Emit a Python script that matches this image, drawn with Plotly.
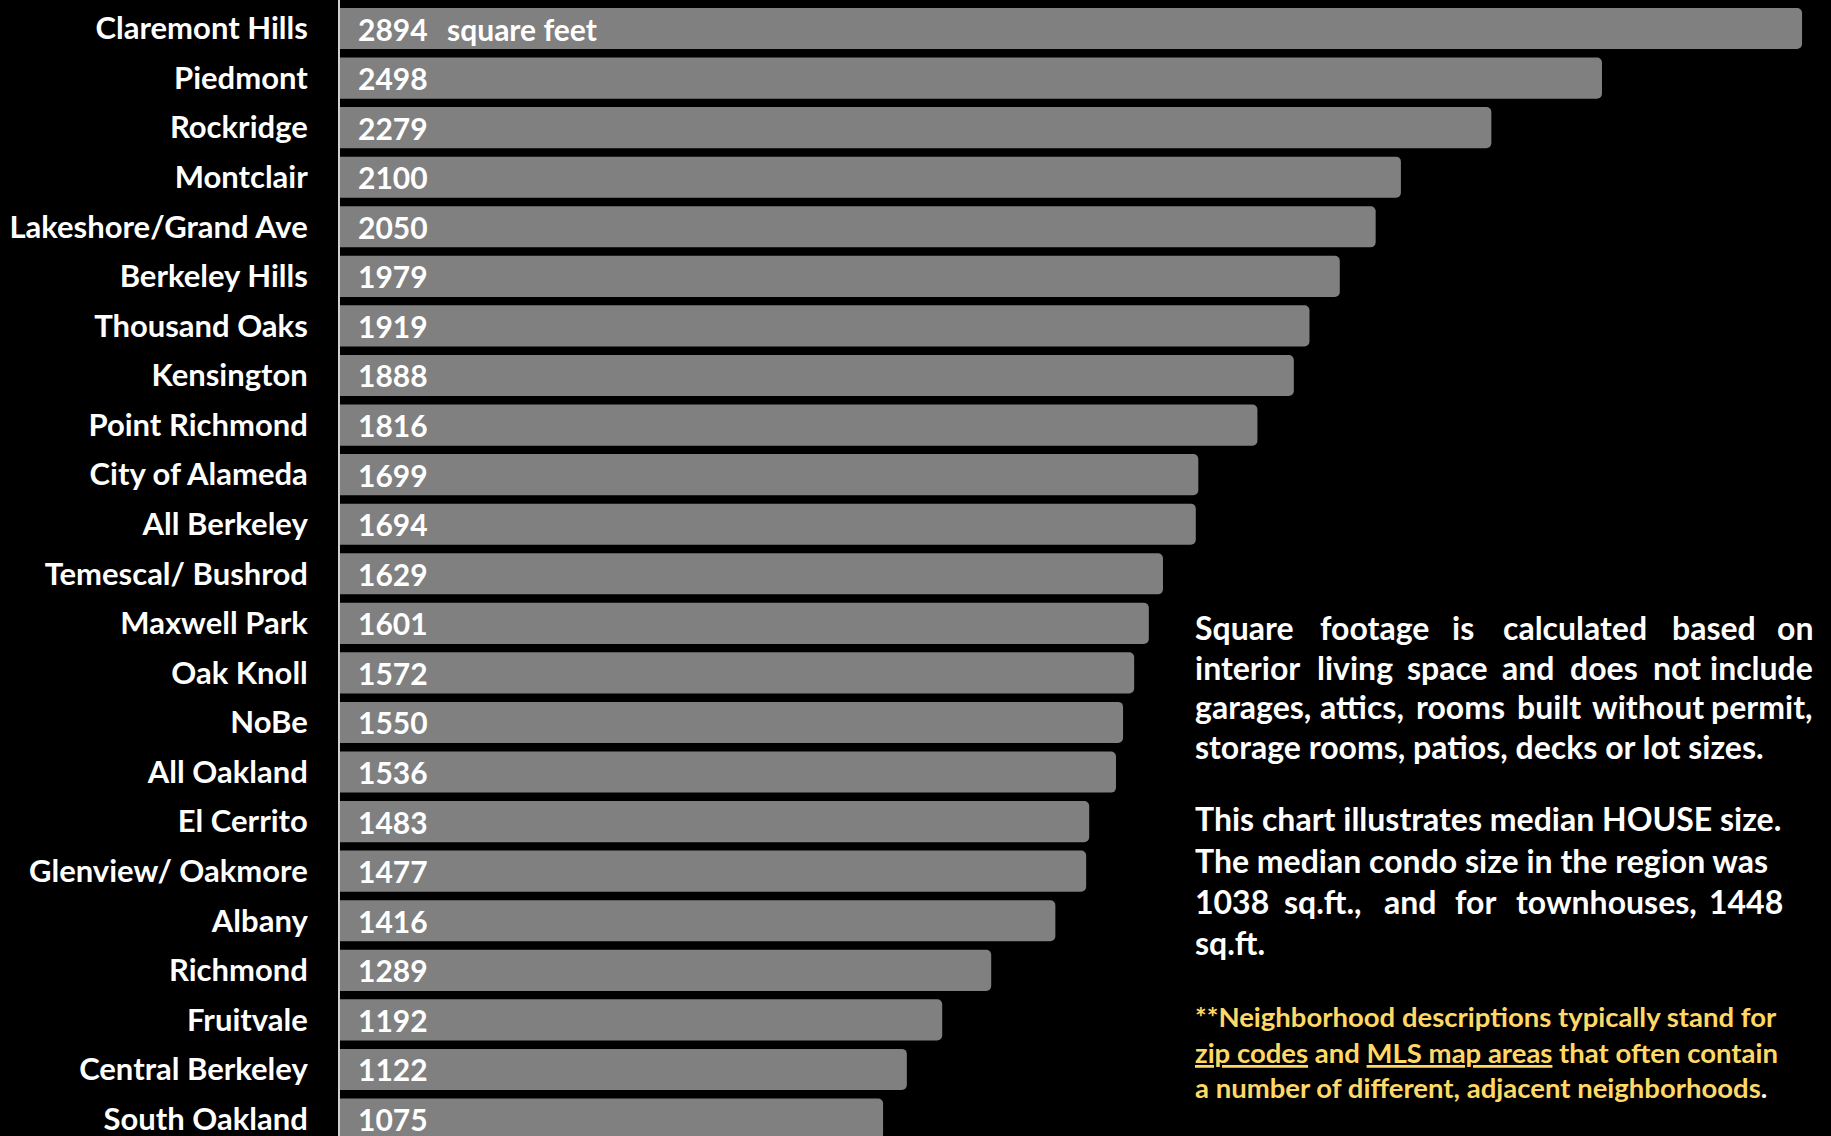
import plotly.graph_objects as go

neighborhoods = ["Claremont Hills", "Piedmont", "Rockridge", "Montclair", "Lakeshore/Grand Ave",
                 "Berkeley Hills", "Thousand Oaks", "Kensington", "Point Richmond", "City of Alameda",
                 "All Berkeley", "Temescal/ Bushrod", "Maxwell Park", "Oak Knoll", "NoBe",
                 "All Oakland", "El Cerrito", "Glenview/ Oakmore", "Albany", "Richmond",
                 "Fruitvale", "Central Berkeley", "South Oakland"]
median_sqft = [2894, 2498, 2279, 2100, 2050, 1979, 1919, 1888, 1816, 1699, 1694, 1629, 1601,
               1572, 1550, 1536, 1483, 1477, 1416, 1289, 1192, 1122, 1075]
unit_label = "square feet"

W, H = 1831, 1136
L = 340
FONT = "Lato"
WHITE = "#ffffff"
GOLD = "#FFD966"

fig = go.Figure()
fig.add_trace(go.Bar(
    x=median_sqft, y=neighborhoods, orientation="h",
    marker=dict(color="#808080", line=dict(width=0), cornerradius=5),
    width=0.83, hoverinfo="skip",
))

annotations = []
for name, v in zip(neighborhoods, median_sqft):
    annotations.append(dict(x=0, y=name, xref="x", yref="y", text=f"<b>{v}</b>",
                            showarrow=False, xanchor="left", yanchor="middle", xshift=16,
                            font=dict(family=FONT, size=30, color=WHITE)))
annotations.append(dict(x=0, y=neighborhoods[0], xref="x", yref="y", text=f"<b>{unit_label}</b>",
                        showarrow=False, xanchor="left", yanchor="middle", xshift=105,
                        font=dict(family=FONT, size=30, color=WHITE)))


def px(xp):
    return (xp - L) / (W - L)


def py(yp):
    return 1 - yp / H


def text_at(txt, x, y, size, color=WHITE, anchor="left"):
    annotations.append(dict(x=px(x), y=py(y), xref="paper", yref="paper", text=f"<b>{txt}</b>",
                            showarrow=False, xanchor=anchor, yanchor="middle",
                            font=dict(family=FONT, size=size, color=color)))


def justified(words, starts, right, y, size, color=WHITE):
    for i, (w, s) in enumerate(zip(words, starts)):
        if i == len(words) - 1:
            text_at(w, right, y, size, color, anchor="right")
        else:
            text_at(w, s, y, size, color)


LEFT = 1193
P = 32
# paragraph 1 (justified)
justified(["Square", "footage", "is", "calculated", "based", "on"],
          [1193, 1318, 1450, 1501, 1670, 1780], 1815, 627, P)
justified(["interior", "living", "space", "and", "does", "not", "include"],
          [1193, 1315, 1405, 1500, 1568, 1651, 1715], 1815, 667, P)
justified(["garages,", "attics,", "rooms", "built", "without", "permit,"],
          [1193, 1318, 1414, 1515, 1590, 1713], 1815, 706.5, P)
text_at("storage rooms, patios, decks or lot sizes.", LEFT, 746, P)

# paragraph 2
text_at("This chart illustrates median HOUSE size.", LEFT, 818.6, P)
text_at("The median condo size in the region was", LEFT, 860.6, P)
justified(["1038", "sq.ft.,", "and", "for", "townhouses,", "1448"],
          [1193, 1282, 1382, 1453, 1514, 1717], 1785, 901.5, P)
text_at("sq.ft.", LEFT, 942.3, P)

# paragraph 3 (gold)
P3 = 27.5
text_at("**Neighborhood descriptions typically stand for", LEFT, 1017, P3, GOLD)
text_at("<u>zip codes</u> and <u>MLS map areas</u> that often contain", LEFT, 1052, P3, GOLD)
text_at("a number of different, adjacent neighborhoods<span style='color:white'>.</span>",
        LEFT, 1087, P3, GOLD)

pitch = 49.57
top_center = 28.5
y_top = -top_center / pitch
y_bot = y_top + H / pitch

fig.update_layout(
    width=W, height=H,
    margin=dict(l=L, r=0, t=0, b=0, pad=0),
    paper_bgcolor="#000000", plot_bgcolor="#000000",
    showlegend=False,
    bargap=0.17,
    annotations=annotations,
    xaxis=dict(range=[0, (W - L) / 0.5052], visible=False, showgrid=False, zeroline=False),
    yaxis=dict(type="category", categoryorder="array", categoryarray=neighborhoods,
               range=[y_bot, y_top], showgrid=False, zeroline=False,
               showline=True, linecolor="#d0d0d0", linewidth=2,
               ticks="", ticklabelstandoff=24,
               tickfont=dict(family=FONT, size=31, color=WHITE, weight="bold")),
)

fig.write_html("out.html")
